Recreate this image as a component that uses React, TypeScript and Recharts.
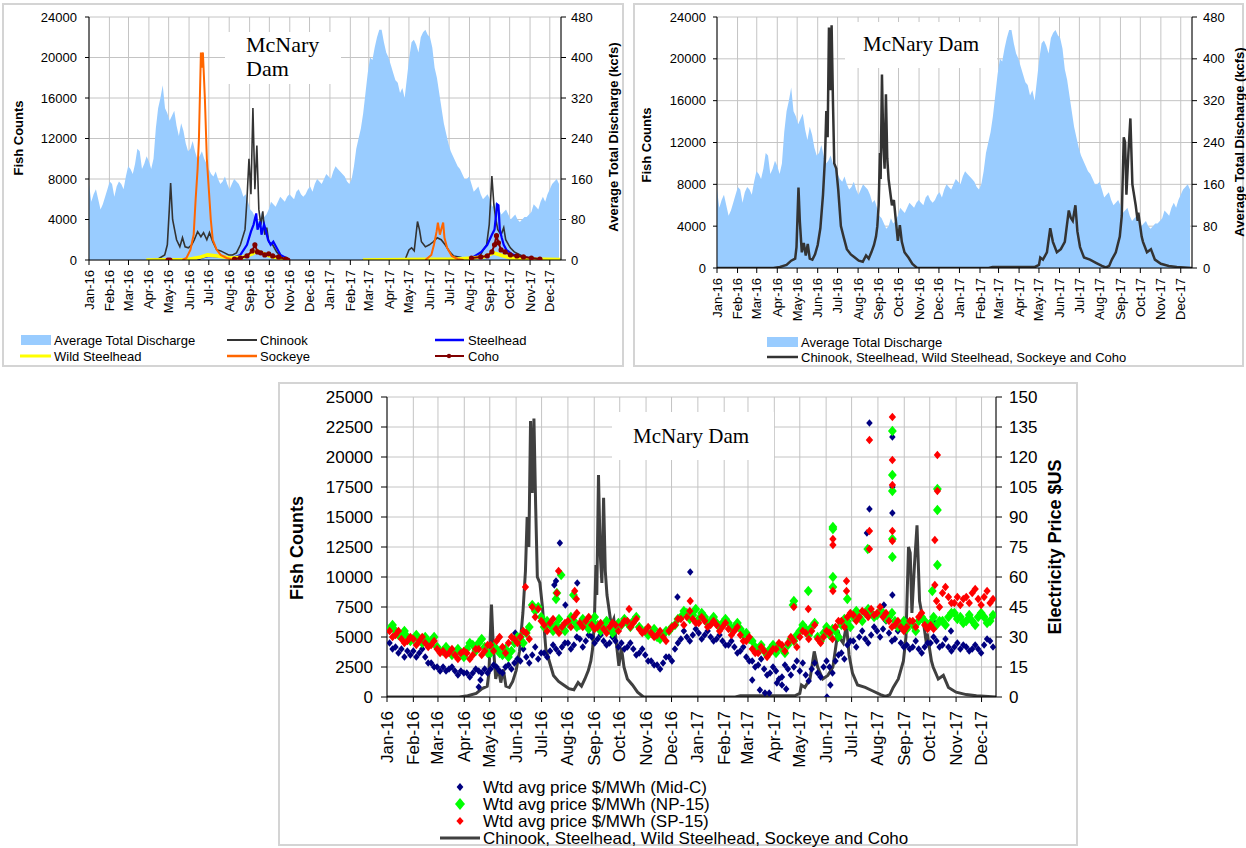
import React from 'react';
import { ComposedChart, Area, Line, Scatter, XAxis, YAxis, CartesianGrid } from 'recharts';

const FONT = '"Liberation Sans", Arial, sans-serif';
const SERIF = '"Liberation Serif", "Times New Roman", serif';

// x axis is counted in days from 1 Jan 2016
const X_END = 717;
const monthStartDays = [0, 31, 60, 91, 121, 152, 182, 213, 244, 274, 305, 335, 366, 397, 425, 456, 486, 517, 547, 578, 609, 639, 670, 700];
const monthLabels = [
  'Jan-16', 'Feb-16', 'Mar-16', 'Apr-16', 'May-16', 'Jun-16', 'Jul-16', 'Aug-16', 'Sep-16', 'Oct-16', 'Nov-16', 'Dec-16',
  'Jan-17', 'Feb-17', 'Mar-17', 'Apr-17', 'May-17', 'Jun-17', 'Jul-17', 'Aug-17', 'Sep-17', 'Oct-17', 'Nov-17', 'Dec-17',
];

const countTicks24 = [0, 4000, 8000, 12000, 16000, 20000, 24000];
const kcfsTicks = [0, 80, 160, 240, 320, 400, 480];
const countTicks25 = [0, 2500, 5000, 7500, 10000, 12500, 15000, 17500, 20000, 22500, 25000];
const priceTicks = [0, 15, 30, 45, 60, 75, 90, 105, 120, 135, 150];

// average total discharge (kcfs): one reading per week from day 0, plus a mid-week reading from day 3.5
const dischargeKcfs = [
  150, 130, 120, 110, 140, 150, 145, 150, 165, 180, 190, 215, 190, 195, 200, 300, 345, 290, 285, 265,
  270, 230, 220, 215, 205, 200, 180, 165, 160, 155, 150, 150, 155, 140, 130, 100, 85, 80, 85, 100,
  110, 115, 120, 125, 125, 135, 130, 130, 145, 150, 155, 160, 165,
  175, 180, 170, 155, 160, 220, 260, 330, 400, 420, 455, 430, 400, 370, 350, 340, 360, 430,
  425, 440, 455, 440, 380, 330, 270, 230, 205, 185, 170, 160, 150, 140, 130, 125, 120, 110, 100,
  95, 90, 85, 80, 80, 85, 95, 105, 115, 115, 140, 155, 150,
];
const dischargeMidweek = [
  115, 140, 100, 125, 155, 125, 155, 140, 185, 170, 220, 180, 205, 180, 260, 320, 300, 275, 295, 245,
  255, 215, 235, 200, 215, 190, 170, 175, 150, 165, 140, 160, 150, 125, 115, 95, 75, 95, 90, 115,
  105, 125, 115, 130, 120, 140, 125, 140, 135, 160, 150, 170, 160,
  185, 175, 165, 150, 185, 240, 290, 370, 395, 440, 455, 410, 385, 355, 330, 320, 400, 435,
  410, 450, 445, 420, 360, 300, 250, 215, 195, 180, 160, 165, 135, 145, 120, 130, 105, 115,
  90, 100, 80, 90, 75, 85, 90, 110, 100, 125, 130, 150, 160,
];

// Chinook, Steelhead, Wild Steelhead, Sockeye and Coho combined
const totalDays = [
  0, 85, 95, 105, 112, 118, 120, 122, 123, 125, 128, 131, 134, 137, 140, 144, 148, 152, 156, 160,
  163, 165, 167, 169, 171, 173, 175, 177, 180, 183, 187, 191, 196, 202, 208, 214, 220, 225, 229, 233,
  237, 240, 242, 244, 246, 247, 249, 251, 253, 255, 257, 259, 261, 264, 267, 270, 273, 276, 279, 283,
  289, 295, 302,
  410, 416, 480, 486, 488, 492, 498, 503, 507, 513, 519, 525, 528, 531, 534, 537, 541, 544, 548, 554,
  563, 572, 581, 587, 592, 596, 602, 608, 611, 614, 616, 618, 621, 624, 627, 632, 635, 636, 641, 643,
  649, 655, 661, 670, 682, 694, 717,
];
const totalCounts = [
  0, 0, 100, 300, 700, 900, 2000, 5800, 7700, 4500, 1500, 2400, 1200, 2300, 900, 800, 1300, 2200, 3800, 7000,
  10500, 15000, 12500, 23000, 17000, 23200, 16000, 10000, 9500, 7500, 4000, 3000, 1800, 1300, 1000, 700, 600, 1200, 900, 1500,
  2200, 3000, 4000, 6000, 11000, 8500, 18500, 12000, 9500, 16600, 10500, 8500, 7500, 6000, 6500, 4500, 2600, 4100, 2500, 1500,
  1000, 400, 0,
  0, 100, 100, 300, 1000, 800, 1500, 3800, 2500, 1500, 1800, 2500, 4000, 5500, 4800, 4500, 6000, 3500, 2000, 1000,
  800, 500, 200, 50, 200, 800, 1500, 3000, 5000, 12500, 12000, 7000, 11000, 14300, 8000, 6000, 4500, 5300, 3000, 2500,
  1500, 1800, 800, 400, 200, 100, 0,
];

// single species (null = not counted between seasons)
const chinookDays = [
  90, 105, 115, 119, 122, 124, 127, 130, 133, 138, 142, 146, 151, 156, 160, 165, 170, 174, 179, 183,
  188, 194, 200, 206, 212, 218, 224, 230, 237, 240, 243, 246, 249, 252, 255, 258, 261, 264, 267, 270,
  273, 279, 285, 291, 299, 302, 400, 416, 480, 486, 490, 494, 499, 502, 505, 511, 517, 523, 529, 535,
  541, 548, 554, 566, 575, 584, 593, 599, 604, 608, 612, 615, 618, 621, 626, 630, 633, 640, 646, 658,
  670, 685, 716,
];
const chinookCounts = [
  0, 100, 500, 1500, 5000, 7600, 4000, 3000, 2000, 1300, 2200, 1300, 1200, 1500, 2000, 2800, 2300, 2700, 2000, 2700,
  1800, 1000, 900, 700, 500, 500, 700, 1500, 3000, 6000, 10000, 6500, 15000, 7000, 11300, 5000, 3500, 4800, 2500, 3200,
  1800, 1500, 800, 400, 100, 0, null, 0, 0, 1000, 1200, 900, 3800, 3000, 1800, 1300, 1500, 1800, 2200, 2000,
  1500, 800, 400, 250, 200, 100, 300, 1000, 1500, 3500, 8300, 5500, 4000, 3000, 2500, 3200, 2000, 1200, 800, 400,
  200, 0, 0,
];
const steelheadDays = [
  165, 170, 182, 194, 206, 218, 230, 240, 246, 250, 254, 256, 260, 262, 266, 269, 272, 276, 280, 285,
  291, 299, 302, 400, 416, 480, 520, 566, 584, 596, 605, 612, 616, 620, 622, 624, 627, 630, 634, 642,
  651, 663, 682, 716,
];
const steelheadCounts = [
  0, 200, 400, 350, 300, 200, 500, 1500, 2800, 3500, 4600, 3000, 3800, 2500, 3500, 2800, 2000, 1500, 1800, 1200,
  500, 200, 0, null, 0, 0, 50, 100, 300, 800, 1500, 2500, 3000, 5500, 5400, 3000, 2200, 1500, 1000, 600,
  400, 200, 100, 50,
];
const wildDays = [87, 150, 170, 180, 195, 215, 235, 248, 255, 262, 270, 280, 295, 302, 400, 416, 480, 560, 600, 615, 625, 640, 670, 716];
const wildCounts = [0, 50, 300, 500, 400, 200, 300, 600, 900, 700, 500, 300, 100, 0, null, 0, 50, 100, 300, 700, 500, 200, 100, 50];
const sockeyeDays = [
  142, 148, 154, 159, 162, 165, 167, 170, 171, 173, 176, 179, 182, 185, 188, 194, 200, 209, 218, 224,
  400, 511, 520, 524, 528, 530, 533, 535, 538, 540, 544, 551, 560, 569,
];
const sockeyeCounts = [
  0, 200, 1000, 2500, 6000, 9000, 12000, 20500, 19000, 20500, 16000, 10000, 7000, 4000, 2000, 1000, 500, 200, 50, 0,
  null, 0, 500, 1500, 2800, 3700, 2500, 3000, 3700, 2200, 1200, 400, 100, 0,
];
const cohoDays = [
  120, 123, 150, 221, 230, 240, 248, 252, 256, 261, 267, 273, 279, 288, 299, 302, 400, 581, 595, 605,
  612, 616, 619, 622, 626, 632, 640, 650, 660, 672, 685,
];
const cohoCounts = [
  0, 0, null, 100, 200, 400, 900, 1500, 800, 700, 500, 600, 400, 300, 100, 0, null, 200, 300, 400,
  800, 1500, 2400, 1700, 1000, 800, 500, 400, 300, 200, 100,
];

// weighted average prices $/MWh, two readings per week (A from day 3, B from day 6.5)
const midCA = [
  27, 25, 24, 23, 23, 22, 20, 17, 15, 15, 14, 13, 13, 12, 12, 13, 14, 14, 15, 12, 16, 17, 18, 20, 21, 19,
  22, 23, 24, 25, 27, 26, 29, 28, 30, 29, 28, 27, 28, 27, 25, 24, 22, 21, 18, 16, 17, 20, 24, 29, 30, 31,
  32, 31, 30, 29, 28, 26, 25, 23, 20, 18, 16, 14, 12, 13, 10, 14, 15, 13, 11, 14, 12, 15, 15, 18, 22, 26,
  28, 30, 29, 31, 33, 34, 32, 29, 27, 26, 25, 24, 25, 27, 28, 26, 25, 25, 24, 25, 24, 24, 26, 28,
];
const midCB = [
  24, 22, 20, 21, 20, 24, 17, 15, 13, 13, 15, 11, 12, 10, 14, 12, 12, 16, 13, 15, 14, 19, 24, 17, 25, 22,
  20, 26, 22, 27, 24, 30, 25, 31, 27, 31, 26, 30, 25, 24, 27, 21, 24, 18, 16, 14, 20, 18, 27, 33, 28, 34,
  29, 33, 28, 31, 26, 28, 22, 25, 18, 15, 19, 11, 15, 9, 16, 11, 18, 17, 8, 17, 10, 18, 12, 21, 19, 28,
  25, 33, 27, 35, 30, 38, 28, 33, 25, 24, 28, 22, 27, 30, 25, 29, 23, 27, 26, 23, 26, 22, 29, 25,
];
const np15A = [
  34, 33, 31, 30, 29, 29, 30, 28, 25, 23, 23, 22, 22, 24, 26, 27, 25, 22, 24, 21, 20, 27, 30, 32, 46, 45,
  35, 36, 36, 35, 37, 38, 36, 36, 37, 36, 35, 34, 35, 36, 37, 38, 35, 33, 32, 30, 31, 33, 36, 40, 42, 41,
  39, 40, 38, 37, 37, 37, 35, 34, 32, 28, 24, 23, 24, 22, 24, 26, 28, 33, 34, 35, 30, 32, 31, 33, 36, 38,
  40, 40, 42, 42, 41, 42, 40, 38, 36, 34, 36, 38, 38, 37, 36, 38, 40, 42, 40, 38, 38, 40, 40, 38,
];
const np15B = [
  36, 31, 33, 28, 31, 27, 28, 30, 23, 25, 21, 24, 20, 27, 23, 29, 22, 25, 22, 24, 23, 30, 27, 35, 43, 40,
  38, 33, 39, 33, 40, 35, 39, 34, 40, 33, 38, 32, 37, 39, 35, 40, 33, 31, 34, 29, 33, 35, 39, 43, 39, 44,
  42, 37, 40, 35, 39, 34, 37, 31, 29, 25, 26, 21, 26, 25, 22, 29, 31, 36, 31, 37, 28, 35, 34, 30, 39, 35,
  43, 38, 44, 40, 43, 39, 42, 35, 38, 37, 33, 40, 36, 40, 38, 36, 42, 39, 37, 41, 36, 42, 37, 41,
];
const sp15A = [
  33, 31, 29, 28, 29, 28, 27, 26, 24, 23, 22, 21, 22, 22, 21, 24, 23, 26, 28, 25, 27, 29, 30, 32, 45, 44,
  36, 37, 34, 35, 38, 40, 37, 38, 36, 35, 34, 35, 36, 36, 38, 37, 34, 33, 32, 31, 30, 33, 36, 39, 40, 39,
  37, 38, 36, 36, 35, 34, 33, 31, 28, 24, 22, 23, 22, 24, 26, 27, 28, 30, 32, 33, 29, 30, 32, 35, 38, 40,
  41, 40, 42, 44, 42, 40, 38, 36, 35, 35, 38, 40, 36, 36, 48, 52, 50, 47, 46, 50, 52, 49, 50, 47,
];
const sp15B = [
  30, 33, 27, 30, 26, 30, 25, 28, 22, 21, 24, 19, 23, 19, 24, 21, 26, 23, 30, 22, 30, 27, 33, 29, 40, 38,
  33, 39, 32, 37, 35, 42, 35, 40, 34, 37, 32, 37, 33, 38, 35, 39, 32, 35, 30, 33, 28, 35, 39, 36, 43, 37,
  40, 35, 38, 33, 37, 31, 35, 28, 30, 22, 25, 20, 24, 27, 23, 30, 25, 33, 29, 36, 27, 33, 29, 38, 35, 42,
  38, 43, 40, 41, 45, 42, 35, 38, 33, 38, 35, 42, 34, 34, 45, 55, 47, 50, 49, 47, 54, 46, 53, 49,
];
const WEEK_A = 3;
const WEEK_B = 6.5;

const midCSpikeDays = [108, 110, 151, 197, 199, 203.5, 210, 224, 342, 357, 430, 439, 445, 450, 459, 465, 470, 518, 522, 565, 568, 568, 585, 595, 595, 595, 595, 645, 664];
const midCSpikes = [5, 8.5, 32, 56, 58, 77, 46, 57, 50, 62.5, 8.5, 3.5, 2, 2, 7, 6, 4, 0, 6, 82, 137, 94, 46, 130, 105, 92, 51, 37, 33];
const np15SpikeDays = [199, 200, 205, 219.5, 478, 479, 496, 525, 525, 525, 525, 542, 566, 595, 595, 595, 595, 595, 642, 648, 648, 648];
const np15Spikes = [49, 52, 61, 51, 46, 48, 53, 85, 84, 60, 55, 49, 74, 133, 111, 103, 79, 70, 53, 104, 93.5, 66];
const sp15SpikeDays = [163, 200, 202, 221, 223, 285, 357, 479, 496, 525, 525, 525, 541, 541, 568, 568, 568, 595, 595, 595, 595, 595, 645, 645, 648, 648];
const sp15Spikes = [55, 52, 63, 53, 49, 44, 48, 45, 44, 79, 76, 53, 58, 53, 128.5, 83, 74, 140, 118.5, 106, 83, 78, 78.5, 56, 121, 103];

// ---- rows for recharts ----
const pairs = (days: number[], vals: (number | null)[]) => days.map((d, i) => ({ day: d, v: vals[i] }));
const weekly = (vals: number[], start: number) => vals.map((v, i) => ({ day: start + 7 * i, v }));

const dischargeData = [...weekly(dischargeKcfs, 0), ...weekly(dischargeMidweek, 3.5)].sort((a, b) => a.day - b.day);
const totalData = pairs(totalDays, totalCounts);
const chinookData = pairs(chinookDays, chinookCounts);
const steelheadData = pairs(steelheadDays, steelheadCounts);
const wildData = pairs(wildDays, wildCounts);
const sockeyeData = pairs(sockeyeDays, sockeyeCounts);
const cohoData = pairs(cohoDays, cohoCounts);
const midCData = [...weekly(midCA, WEEK_A), ...weekly(midCB, WEEK_B), ...pairs(midCSpikeDays, midCSpikes)];
const np15Data = [...weekly(np15A, WEEK_A), ...weekly(np15B, WEEK_B), ...pairs(np15SpikeDays, np15Spikes)];
const sp15Data = [...weekly(sp15A, WEEK_A), ...weekly(sp15B, WEEK_B), ...pairs(sp15SpikeDays, sp15Spikes)];

const labelFor = (day: number) => monthLabels[monthStartDays.indexOf(day)] ?? '';

const monthTick = (fontSize: number, shift: number) => (p: any) => (
  <text
    transform={`translate(${p.x},${p.y + shift}) rotate(-90)`}
    textAnchor="end"
    dominantBaseline="central"
    fontSize={fontSize}
    fontFamily={FONT}
    fill="#000"
  >
    {labelFor(p.payload.value)}
  </text>
);

const diamond = (r: number, fill: string) => (p: any) => {
  const { cx, cy } = p;
  if (cx == null || cy == null) return <g />;
  return <polygon points={`${cx},${cy - r} ${cx + r * 0.85},${cy} ${cx},${cy + r} ${cx - r * 0.85},${cy}`} fill={fill} />;
};

const GRID = '#c4c4c4';
const BLUE_AREA = '#99ccff';

function xAxisFor(fontSize: number, shift: number, height: number) {
  return (
    <XAxis
      type="number"
      dataKey="day"
      domain={[0, X_END]}
      allowDataOverflow
      ticks={monthStartDays}
      interval={0}
      height={height}
      tick={monthTick(fontSize, shift)}
      tickSize={5}
      axisLine={{ stroke: '#000' }}
      tickLine={{ stroke: '#000' }}
    />
  );
}

function TopLeft() {
  const tk = { fontSize: 13, fill: '#000', fontFamily: FONT };
  return (
    <ComposedChart width={624} height={330} margin={{ top: 17, right: 13, bottom: 10, left: 29 }}>
      <CartesianGrid stroke={GRID} yAxisId="l" />
      {xAxisFor(13, 3, 60)}
      <YAxis yAxisId="l" domain={[0, 24000]} ticks={countTicks24} interval={0} width={60} tick={tk}
        tickSize={4} tickMargin={8} axisLine={{ stroke: '#000' }} tickLine={{ stroke: '#000' }} allowDataOverflow />
      <YAxis yAxisId="r" orientation="right" domain={[0, 480]} ticks={kcfsTicks} interval={0} width={50} tick={tk}
        tickSize={5} tickMargin={5} axisLine={{ stroke: '#000' }} tickLine={{ stroke: '#000' }} allowDataOverflow />
      <Area yAxisId="r" data={dischargeData} dataKey="v" type="linear" stroke="none" fill={BLUE_AREA} fillOpacity={1} isAnimationActive={false} />
      <Line yAxisId="l" data={chinookData} dataKey="v" type="linear" stroke="#333333" strokeWidth={1.6} dot={false} isAnimationActive={false} />
      <Line yAxisId="l" data={steelheadData} dataKey="v" type="linear" stroke="#0000ff" strokeWidth={2.2} dot={false} isAnimationActive={false} />
      <Line yAxisId="l" data={wildData} dataKey="v" type="linear" stroke="#ffff00" strokeWidth={3.6} dot={false} isAnimationActive={false} />
      <Line yAxisId="l" data={sockeyeData} dataKey="v" type="linear" stroke="#ff6600" strokeWidth={2} dot={false} isAnimationActive={false} />
      <Line yAxisId="l" data={cohoData} dataKey="v" type="linear" stroke="#800000" strokeWidth={2}
        dot={{ r: 1.6, fill: '#800000', stroke: '#800000' }} isAnimationActive={false} />
    </ComposedChart>
  );
}

function TopRight() {
  const tk = { fontSize: 13, fill: '#000', fontFamily: FONT };
  return (
    <ComposedChart width={616} height={340} margin={{ top: 17, right: 9, bottom: 12, left: 27 }}>
      <CartesianGrid stroke={GRID} yAxisId="l" />
      {xAxisFor(13, 3, 60)}
      <YAxis yAxisId="l" domain={[0, 24000]} ticks={countTicks24} interval={0} width={60} tick={tk}
        tickSize={4} tickMargin={7} axisLine={{ stroke: '#000' }} tickLine={{ stroke: '#000' }} allowDataOverflow />
      <YAxis yAxisId="r" orientation="right" domain={[0, 480]} ticks={kcfsTicks} interval={0} width={45} tick={tk}
        tickSize={5} tickMargin={6} axisLine={{ stroke: '#000' }} tickLine={{ stroke: '#000' }} allowDataOverflow />
      <Area yAxisId="r" data={dischargeData} dataKey="v" type="linear" stroke="none" fill={BLUE_AREA} fillOpacity={1} isAnimationActive={false} />
      <Line yAxisId="l" data={totalData} dataKey="v" type="linear" stroke="#333333" strokeWidth={2.5} dot={false} isAnimationActive={false} />
    </ComposedChart>
  );
}

function Bottom() {
  const tk = { fontSize: 17, fill: '#000', fontFamily: FONT };
  return (
    <ComposedChart width={800} height={400} margin={{ top: 17, right: 34, bottom: 13, left: 42 }}>
      <CartesianGrid stroke={GRID} yAxisId="l" />
      {xAxisFor(17, 7, 70)}
      <YAxis yAxisId="l" domain={[0, 25000]} ticks={countTicks25} interval={0} width={65} tick={tk}
        tickSize={6} tickMargin={8} axisLine={{ stroke: '#000' }} tickLine={{ stroke: '#000' }} allowDataOverflow />
      <YAxis yAxisId="r" orientation="right" domain={[0, 150]} ticks={priceTicks} interval={0} width={50} tick={tk}
        tickSize={6} tickMargin={7} axisLine={{ stroke: '#000' }} tickLine={{ stroke: '#000' }} allowDataOverflow />
      <Scatter yAxisId="r" data={midCData} dataKey="v" shape={diamond(3.8, '#000080')} isAnimationActive={false} />
      <Scatter yAxisId="r" data={np15Data} dataKey="v" shape={diamond(5.2, '#00ff00')} isAnimationActive={false} />
      <Scatter yAxisId="r" data={sp15Data} dataKey="v" shape={diamond(4.3, '#ff0000')} isAnimationActive={false} />
      <Line yAxisId="l" data={totalData} dataKey="v" type="linear" stroke="#404040" strokeWidth={3} dot={false} isAnimationActive={false} />
    </ComposedChart>
  );
}

const vText = (x: number, y: number, size: number, text: string) => (
  <text transform={`translate(${x},${y}) rotate(-90)`} textAnchor="middle" dominantBaseline="central"
    fontSize={size} fontWeight="bold" fontFamily={FONT} fill="#000">{text}</text>
);

const legendText = (x: number, y: number, size: number, text: string) => (
  <text x={x} y={y} dominantBaseline="central" fontSize={size} fontFamily={FONT} fill="#000">{text}</text>
);

function Overlay() {
  return (
    <svg width={1246} height={848} style={{ position: 'absolute', left: 0, top: 0, pointerEvents: 'none' }}>
      {/* title boxes */}
      <rect x={225} y={32} width={116} height={52} fill="#fff" />
      <text x={246} y={52} fontSize={22} fontFamily={SERIF} fill="#000">McNary</text>
      <text x={246} y={76} fontSize={22} fontFamily={SERIF} fill="#000">Dam</text>
      <rect x={845} y={22} width={152} height={46} fill="#fff" />
      <text x={863} y={51} fontSize={21} fontFamily={SERIF} fill="#000">McNary Dam</text>
      <rect x={612} y={412} width={162} height={48} fill="#fff" />
      <text x={633} y={443} fontSize={21} fontFamily={SERIF} fill="#000">McNary Dam</text>

      {/* axis titles */}
      {vText(18, 138, 13, 'Fish Counts')}
      {vText(613, 137, 13, 'Average Total Discharge (kcfs)')}
      {vText(646, 145, 13, 'Fish Counts')}
      {vText(1239, 142, 13, 'Average Total Discharge (kcfs)')}
      {vText(297, 548, 18, 'Fish Counts')}
      {vText(1055, 547, 18, 'Electricity Price $US')}

      {/* top-left legend */}
      <rect x={21} y={335} width={30} height={10} fill={BLUE_AREA} />
      {legendText(54, 340, 13, 'Average Total Discharge')}
      <line x1={20} x2={51} y1={356} y2={356} stroke="#ffff00" strokeWidth={3} />
      {legendText(54, 356, 13, 'Wild Steelhead')}
      <line x1={227} x2={257} y1={340} y2={340} stroke="#333333" strokeWidth={2} />
      {legendText(260, 340, 13, 'Chinook')}
      <line x1={227} x2={257} y1={356} y2={356} stroke="#ff6600" strokeWidth={2.5} />
      {legendText(260, 356, 13, 'Sockeye')}
      <line x1={435} x2={464} y1={340} y2={340} stroke="#0000ff" strokeWidth={2.5} />
      {legendText(468, 340, 13, 'Steelhead')}
      <line x1={435} x2={464} y1={356} y2={356} stroke="#800000" strokeWidth={2} />
      <circle cx={449} cy={356} r={2.2} fill="#800000" />
      {legendText(468, 356, 13, 'Coho')}

      {/* top-right legend */}
      <rect x={767} y={337} width={31} height={10} fill={BLUE_AREA} />
      {legendText(801, 342, 13, 'Average Total Discharge')}
      <line x1={767} x2={798} y1={357} y2={357} stroke="#333333" strokeWidth={2.5} />
      {legendText(801, 357, 13, 'Chinook, Steelhead, Wild Steelhead, Sockeye and Coho')}

      {/* bottom legend */}
      <polygon points="460,783 463.4,787 460,791 456.6,787" fill="#000080" />
      {legendText(483, 787, 17, 'Wtd avg price $/MWh (Mid-C)')}
      <polygon points="460,798 465,804 460,810 455,804" fill="#00ff00" />
      {legendText(483, 804, 17, 'Wtd avg price $/MWh (NP-15)')}
      <polygon points="460,817 463.6,821 460,825 456.4,821" fill="#ff0000" />
      {legendText(483, 821, 17, 'Wtd avg price $/MWh (SP-15)')}
      <line x1={440} x2={480} y1={838} y2={838} stroke="#404040" strokeWidth={3} />
      {legendText(483, 838, 17, 'Chinook, Steelhead, Wild Steelhead, Sockeye and Coho')}
    </svg>
  );
}

const panel = (left: number, top: number, width: number, height: number) => (
  <div style={{ position: 'absolute', left, top, width, height, border: '2px solid #d4d4d4', boxSizing: 'border-box' }} />
);

export default function App() {
  return (
    <div style={{ position: 'absolute', left: 0, top: 0, width: 1246, height: 848, background: '#fff', overflow: 'hidden' }}>
      {panel(2, 3, 622, 364)}
      {panel(633, 3, 611, 364)}
      {panel(278, 382, 800, 464)}
      <div style={{ position: 'absolute', left: 0, top: 0 }}>
        <TopLeft />
      </div>
      <div style={{ position: 'absolute', left: 630, top: 0 }}>
        <TopRight />
      </div>
      <div style={{ position: 'absolute', left: 280, top: 380 }}>
        <Bottom />
      </div>
      <Overlay />
    </div>
  );
}
